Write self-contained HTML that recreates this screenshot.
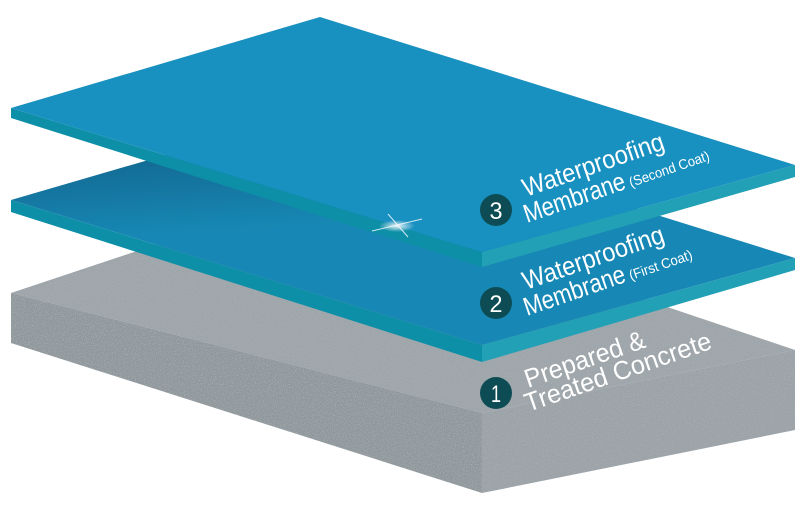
<!DOCTYPE html>
<html><head><meta charset="utf-8"><style>html,body{margin:0;padding:0;background:#fff;width:801px;height:511px;overflow:hidden}</style></head>
<body>
<svg width="801" height="511" viewBox="0 0 801 511" xmlns="http://www.w3.org/2000/svg" font-family="'Liberation Sans', sans-serif">
<defs>
<filter id="noise" x="0" y="0" width="100%" height="100%">
<feTurbulence type="fractalNoise" baseFrequency="0.9" numOctaves="2" seed="3" result="n"/>
<feColorMatrix in="n" type="matrix" values="0 0 0 0 0.40  0 0 0 0 0.42  0 0 0 0 0.43  0 0 0 -3 1.6" result="dots"/>
<feComposite in="dots" in2="SourceGraphic" operator="in" result="d2"/>
<feMerge><feMergeNode in="SourceGraphic"/><feMergeNode in="d2"/></feMerge>
</filter>
<radialGradient id="spark" cx="0.5" cy="0.5" r="0.5"><stop offset="0" stop-color="#fff"/><stop offset="1" stop-color="#fff" stop-opacity="0"/></radialGradient>
<linearGradient id="l2" x1="0" y1="0" x2="0.2" y2="1"><stop offset="0.25" stop-color="#136d96"/><stop offset="0.55" stop-color="#1788b5"/></linearGradient>
</defs>
<g filter="url(#noise)">
<polygon points="11,293 320,190 795,350 482,413" fill="#9ea6ab"/>
<polygon points="11,293 482,413 482,493 11,343" fill="#8f989d"/>
<polygon points="482,413 795,350 795,430 482,493" fill="#9ba3a8"/>
</g>
<polygon points="11,200 482,345 482,362 11,212" fill="#0e8fa8"/>
<polygon points="482,345 795,258 795,270 482,362" fill="#22a0b6"/>
<polygon points="11,200 320,110 795,258 482,345" fill="url(#l2)"/>
<polygon points="11,108 482,252 482,267 11,118" fill="#0e8fa8"/>
<polygon points="482,252 795,165 795,177 482,267" fill="#22a0b6"/>
<polygon points="11,108 320,17 795,165 482,252" fill="#1890c0"/>
<ellipse cx="397" cy="226" rx="18" ry="6" fill="url(#spark)" opacity="0.9"/>
<path d="M372,231 L422,219 M388,214 L408,237" stroke="#fff" stroke-width="1" opacity="0.8"/>
<g fill="#fff">
<circle cx="496" cy="210" r="16" fill="#0d4c54"/>
<text x="496" y="219" font-size="24" text-anchor="middle" textLength="13" lengthAdjust="spacingAndGlyphs">3</text>
<text transform="translate(526,197) rotate(-19)" font-size="26" textLength="148" lengthAdjust="spacingAndGlyphs">Waterproofing</text>
<text transform="translate(527,223) rotate(-19)" font-size="26"><tspan textLength="106" lengthAdjust="spacingAndGlyphs">Membrane</tspan><tspan font-size="14" dx="4" textLength="84" lengthAdjust="spacingAndGlyphs">(Second Coat)</tspan></text>

<circle cx="496" cy="303" r="16" fill="#0d4c54"/>
<text x="496" y="312" font-size="24" text-anchor="middle" textLength="13" lengthAdjust="spacingAndGlyphs">2</text>
<text transform="translate(526,290) rotate(-19)" font-size="26" textLength="148" lengthAdjust="spacingAndGlyphs">Waterproofing</text>
<text transform="translate(527,316) rotate(-19)" font-size="26"><tspan textLength="106" lengthAdjust="spacingAndGlyphs">Membrane</tspan><tspan font-size="14" dx="4" textLength="66" lengthAdjust="spacingAndGlyphs">(First Coat)</tspan></text>

<circle cx="496" cy="393" r="16" fill="#0d4c54"/>
<text x="496" y="402" font-size="24" text-anchor="middle" textLength="10" lengthAdjust="spacingAndGlyphs">1</text>
<text transform="translate(528,388) rotate(-19)" font-size="26" textLength="126" lengthAdjust="spacingAndGlyphs">Prepared &amp;</text>
<text transform="translate(528,412) rotate(-19)" font-size="26" textLength="196" lengthAdjust="spacingAndGlyphs">Treated Concrete</text>
</g>
</svg>
</body></html>
